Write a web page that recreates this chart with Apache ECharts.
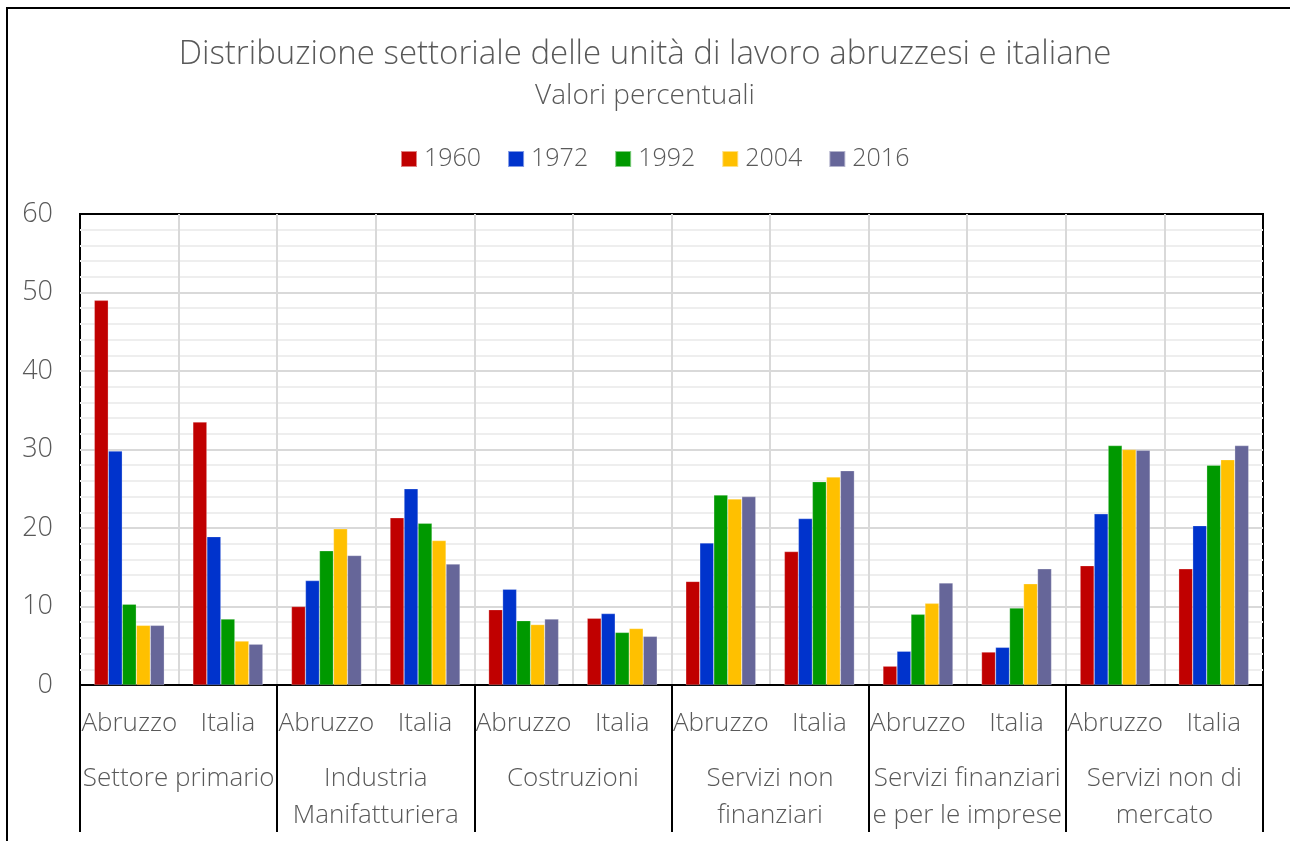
<!DOCTYPE html>
<html>
<head>
<meta charset="utf-8">
<script src="https://cdn.jsdelivr.net/npm/echarts@6/dist/echarts.min.js"></script>
<style>
html,body{margin:0;padding:0;background:#fff;}
#chart{width:1290px;height:841px;}
</style>
</head>
<body>
<div id="chart"></div>
<script>
const subCategories = ['Abruzzo','Italia','Abruzzo','Italia','Abruzzo','Italia','Abruzzo','Italia','Abruzzo','Italia','Abruzzo','Italia'];
const groups = ['Settore primario','Industria\nManifatturiera','Costruzioni','Servizi non\nfinanziari','Servizi finanziari\ne per le imprese','Servizi non di\nmercato'];
const years = ['1960','1972','1992','2004','2016'];
const v1960 = [49.0, 33.5, 10.0, 21.3, 9.6, 8.5, 13.2, 17.0, 2.4, 4.2, 15.2, 14.8];
const v1972 = [29.8, 18.9, 13.3, 25.0, 12.2, 9.1, 18.1, 21.2, 4.3, 4.8, 21.8, 20.3];
const v1992 = [10.3, 8.4, 17.1, 20.6, 8.2, 6.7, 24.2, 25.9, 9.0, 9.8, 30.5, 28.0];
const v2004 = [7.6, 5.6, 19.9, 18.4, 7.7, 7.2, 23.7, 26.5, 10.4, 12.9, 30.0, 28.7];
const v2016 = [7.6, 5.2, 16.5, 15.4, 8.4, 6.2, 24.0, 27.3, 13.0, 14.8, 29.9, 30.5];
const yTicks = [0, 10, 20, 30, 40, 50, 60];

const colors = ['#C00000','#0033CC','#009900','#FFC000','#666699'];
const FONT = '"Open Sans", sans-serif';
const TXT = '#595959';
const values = [v1960, v1972, v1992, v2004, v2016];

const chart = echarts.init(document.getElementById('chart'), null, {renderer:'canvas'});
chart.setOption({
  animation: false,
  backgroundColor: '#fff',
  color: colors,
  title: [
    {text: 'Distribuzione settoriale delle unità di lavoro abruzzesi e italiane', left: 'center', top: 30,
     textStyle: {fontFamily: FONT, fontWeight: 300, fontSize: 33, lineHeight: 40, color: TXT}},
    {text: 'Valori percentuali', left: 'center', top: 74,
     textStyle: {fontFamily: FONT, fontWeight: 300, fontSize: 28, lineHeight: 34, color: TXT}}
  ],
  legend: {
    top: 139, left: 395, itemWidth: 16, itemHeight: 16, itemGap: 26,
    icon: 'rect',
    textStyle: {fontFamily: FONT, fontWeight: 300, fontSize: 25, lineHeight: 30, color: TXT, padding: [0, 0, 0, 2]},
    data: years
  },
  graphic: [{
    type: 'rect', shape: {x: 7, y: 8, width: 1300, height: 900},
    style: {fill: 'none', stroke: '#000', lineWidth: 2}, silent: true, z: 100
  }],
  grid: {left: 80, right: 27, top: 214, bottom: 156, show: true, borderColor: '#000', borderWidth: 2, backgroundColor: 'transparent'},
  xAxis: [
    {type: 'category', data: subCategories, position: 'bottom',
     axisLine: {show: true, lineStyle: {color: '#000', width: 2}},
     axisTick: {show: false},
     axisLabel: {interval: 0, margin: 24, lineHeight: 30, fontFamily: FONT, fontWeight: 300, fontSize: 26, color: TXT},
     splitLine: {show: true, interval: 0, showMinLine: false, showMaxLine: false, lineStyle: {color: '#d9d9d9', width: 2}}},
    {type: 'category', data: groups, position: 'bottom', offset: 0,
     axisLine: {show: false},
     axisTick: {show: true, interval: 0, length: 147, lineStyle: {color: '#000', width: 2}},
     axisLabel: {interval: 0, margin: 75, lineHeight: 37, fontFamily: FONT, fontWeight: 300, fontSize: 26, color: TXT},
     splitLine: {show: false}}
  ],
  yAxis: {
    type: 'value', min: 0, max: 60, interval: 10,
    axisLine: {show: false}, axisTick: {show: false},
    axisLabel: {margin: 27, fontFamily: FONT, fontWeight: 300, fontSize: 27, color: TXT,
      formatter: function (v) { return yTicks.indexOf(v) >= 0 ? String(v) : ''; }},
    splitLine: {show: true, showMinLine: false, showMaxLine: false, lineStyle: {color: '#d9d9d9', width: 2}},
    minorTick: {show: false, splitNumber: 5},
    minorSplitLine: {show: true, lineStyle: {color: '#eeeeee', width: 2}}
  },
  series: years.map((y, i) => ({
    name: y, type: 'bar', xAxisIndex: 0, data: values[i],
    barGap: '0%', barCategoryGap: '29%',
    itemStyle: {color: colors[i], borderColor: 'rgba(255,255,255,0.5)', borderWidth: 0.5}
  }))
});
</script>
</body>
</html>
